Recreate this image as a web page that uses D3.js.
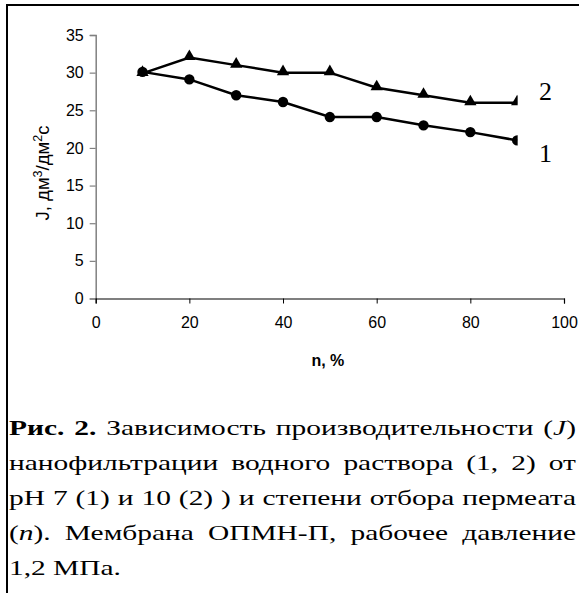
<!DOCTYPE html>
<html><head><meta charset="utf-8">
<script src="https://cdn.jsdelivr.net/npm/d3@7"></script>
<style>html,body{margin:0;padding:0;background:#fff;}svg{display:block;}</style>
</head><body>
<svg id="c" width="579" height="593"></svg>
<script>
const nValues = [10, 20, 30, 40, 50, 60, 70, 80, 90];
const series1 = [30.1, 29.1, 27.0, 26.1, 24.1, 24.1, 23.0, 22.1, 21.0];
const series2 = [29.9, 32.0, 31.0, 30.0, 30.0, 28.0, 27.0, 26.0, 26.0];
const seriesNames = ["1", "2"];
const xTicks = [0, 20, 40, 60, 80, 100];
const yTicks = [0, 5, 10, 15, 20, 25, 30, 35];
const xTitle = "n, %";
const captionLines = [
  [{t:"Рис. 2.", b:true}, {t:" Зависимость производительности ("}, {t:"J", i:true}, {t:")"}],
  [{t:"нанофильтрации водного раствора (1, 2) от"}],
  [{t:"pH 7 (1) и 10 (2) ) и степени отбора пермеата"}],
  [{t:"("}, {t:"n", i:true}, {t:"). Мембрана ОПМН-П, рабочее давление"}],
  [{t:"1,2 МПа."}]
];

const svg = d3.select("#c");
const x = d3.scaleLinear().domain([0, 100]).range([95.7, 564]);
const y = d3.scaleLinear().domain([0, 35]).range([298.5, 35]);

// frame
svg.append("line").attr("x1", 6).attr("x2", 579).attr("y1", 5).attr("y2", 5).attr("stroke", "#000").attr("stroke-width", 2);
svg.append("line").attr("x1", 7).attr("x2", 7).attr("y1", 4).attr("y2", 593).attr("stroke", "#000").attr("stroke-width", 2);

// axes
const ya = svg.append("g").attr("transform", `translate(${x(0)},0)`)
  .call(d3.axisLeft(y).tickValues(yTicks).tickSize(6).tickPadding(6).tickFormat(d3.format("d")));
ya.select(".domain").attr("stroke", "#808080").attr("stroke-width", 1.5);
ya.selectAll(".tick line").attr("stroke", "#808080").attr("stroke-width", 1.2);
ya.selectAll("text").attr("font-family", "Liberation Sans, Arial").attr("font-size", 16).attr("fill", "#000");

const xa = svg.append("g").attr("transform", `translate(0,${y(0)})`)
  .call(d3.axisBottom(x).tickValues(xTicks).tickSize(5).tickPadding(13).tickFormat(d3.format("d")));
xa.select(".domain").attr("stroke", "#000").attr("stroke-width", 1.2);
xa.selectAll(".tick line").attr("stroke", "#000");
xa.selectAll("text").attr("font-family", "Liberation Sans, Arial").attr("font-size", 16).attr("fill", "#000");

// axis titles
svg.append("text").attr("x", x(50) - 2).attr("y", 366).attr("text-anchor", "middle")
  .attr("font-family", "Liberation Sans, Arial").attr("font-weight", "bold").attr("font-size", 16).text(xTitle);

const yt = svg.append("text").attr("transform", `translate(49,173) rotate(-90)`).attr("text-anchor", "middle")
  .attr("font-family", "Liberation Sans, Arial").attr("font-size", 18.5);
yt.append("tspan").text("J, дм");
yt.append("tspan").attr("font-size", 12.5).attr("dy", -7).text("3");
yt.append("tspan").attr("dy", 7).text("/дм");
yt.append("tspan").attr("font-size", 12.5).attr("dy", -7).text("2");
yt.append("tspan").attr("dy", 7).text("с");

// clip
svg.append("clipPath").attr("id", "pc").append("rect")
  .attr("x", x(0)).attr("y", 0).attr("width", x(90) - x(0) + 0.5).attr("height", y(0));
const plot = svg.append("g").attr("clip-path", "url(#pc)");

const line = d3.line().x((d, i) => x(nValues[i])).y(d => y(d));
plot.append("path").datum(series2).attr("d", line).attr("fill", "none").attr("stroke", "#000").attr("stroke-width", 2.5);
plot.append("path").datum(series1).attr("d", line).attr("fill", "none").attr("stroke", "#000").attr("stroke-width", 2.5);
const tri = d3.symbol().type(d3.symbolTriangle).size(65);
plot.selectAll(".tri").data(series2).join("path").attr("class", "tri")
  .attr("transform", (d, i) => `translate(${x(nValues[i])},${y(d) - 1})`).attr("d", tri).attr("fill", "#000");
plot.selectAll(".cir").data(series1).join("circle").attr("class", "cir")
  .attr("cx", (d, i) => x(nValues[i])).attr("cy", d => y(d)).attr("r", 5.2).attr("fill", "#000");

// series labels
svg.append("text").attr("x", 539).attr("y", 100).attr("font-family", "Liberation Serif, Times New Roman").attr("font-size", 26).text(seriesNames[1]);
svg.append("text").attr("x", 539).attr("y", 162).attr("font-family", "Liberation Serif, Times New Roman").attr("font-size", 26).text(seriesNames[0]);

// caption (justified)
const capLeft = 9, capRight = 576, capFont = 22;
const baselines = [435, 470, 505, 540, 575];
const cap = svg.append("g").attr("font-family", "Liberation Serif, Times New Roman").attr("font-size", capFont).attr("fill", "#000");
function buildWords(segs) {
  const words = []; let cur = [];
  segs.forEach(s => {
    const parts = s.t.split(/( )/);
    parts.forEach(p => {
      if (p === " ") { if (cur.length) { words.push(cur); cur = []; } }
      else if (p.length) cur.push({t: p, b: s.b, i: s.i});
    });
  });
  if (cur.length) words.push(cur);
  return words;
}
function styleSpan(sp, s) {
  sp.attr("font-weight", s.b ? "bold" : null).attr("font-style", s.i ? "italic" : null).text(s.t);
}
function measureIn(parent, segs) {
  const tt = parent.append("text");
  segs.forEach(s => styleSpan(tt.append("tspan"), s));
  const v = tt.node().getComputedTextLength();
  tt.remove();
  return v;
}
const natural3 = measureIn(cap, captionLines[2]);
const sx = Math.max(1, (capRight - capLeft) / natural3 * 0.99);
const capS = cap.append("g").attr("transform", `translate(${capLeft},0) scale(${sx},1)`);
const innerW = (capRight - capLeft) / sx;
const spaceW = measureIn(capS, [{t: "a a"}]) - measureIn(capS, [{t: "aa"}]);
captionLines.forEach((segs, li) => {
  const words = buildWords(segs);
  const widths = words.map(w => measureIn(capS, w));
  const total = d3.sum(widths);
  const last = li === captionLines.length - 1;
  const gap = last ? spaceW : (innerW - total) / (words.length - 1);
  let cx = 0;
  words.forEach((w, wi) => {
    const tt = capS.append("text").attr("x", cx).attr("y", baselines[li]);
    w.forEach(s => styleSpan(tt.append("tspan"), s));
    cx += widths[wi] + gap;
  });
});
</script>
</body></html>
